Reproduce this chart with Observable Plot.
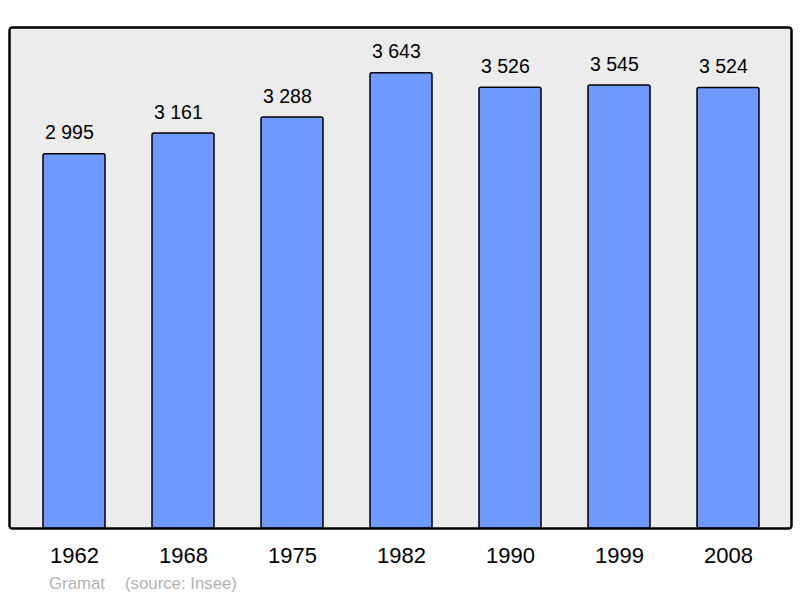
<!DOCTYPE html>
<html>
<head>
<meta charset="utf-8">
<script src="https://cdn.jsdelivr.net/npm/d3@7"></script>
<script src="https://cdn.jsdelivr.net/npm/@observablehq/plot@0.6"></script>
<style>
  html, body { margin: 0; padding: 0; background: #fff; }
  #chart svg { display: block; }
  #caption { position: relative; height: 28px; font-family: "Liberation Sans", Arial, sans-serif; font-size: 16.8px; color: #b3b3b3; }
  #caption span { position: absolute; top: 4px; line-height: 19px; white-space: pre; }
</style>
</head>
<body>
<div id="chart"></div>
<div id="caption"><span style="left:49px">Gramat</span><span style="left:125px">(source: Insee)</span></div>
<script>
const years = ["1962", "1968", "1975", "1982", "1990", "1999", "2008"];
const population = [2995, 3161, 3288, 3643, 3526, 3545, 3524];
const valueLabels = ["2 995", "3 161", "3 288", "3 643", "3 526", "3 545", "3 524"];

const data = years.map((y, i) => ({year: y, pop: population[i], label: valueLabels[i]}));

const chart = Plot.plot({
  width: 800,
  height: 570,
  marginLeft: 9,
  marginRight: 9,
  marginTop: 27,
  marginBottom: 42,
  style: {fontFamily: "'Liberation Sans', Arial, sans-serif", background: "#fff"},
  x: {domain: years, range: [41.5, 760.5], paddingInner: 0.43, paddingOuter: 0, label: null},
  y: {domain: [0, 4008], axis: null},
  marks: [
    Plot.frame({fill: "#ececec", stroke: "black", strokeWidth: 2, rx: 3}),
    Plot.barY(data, {x: "year", y: "pop", fill: "#7099ff", stroke: "black", strokeWidth: 1.5, rx: 2}),
    Plot.text(data, {x: "year", y: "pop", text: "label", dy: -21, dx: -29.5, textAnchor: "start", fontSize: 19.5, fill: "black"}),
    Plot.axisX({tickSize: 0, tickPadding: 19, fontSize: 22, fill: "black"}),
    Plot.frame({stroke: "black", strokeWidth: 2, rx: 3})
  ]
});
document.getElementById("chart").appendChild(chart);
</script>
</body>
</html>
